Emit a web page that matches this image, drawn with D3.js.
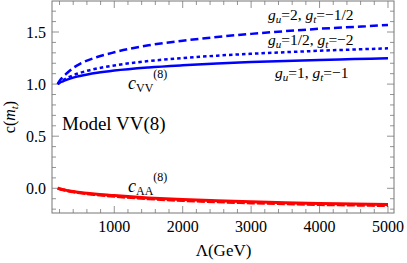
<!DOCTYPE html>
<html>
<head>
<meta charset="utf-8">
<script src="https://cdn.jsdelivr.net/npm/d3@7"></script>
<style>
  html, body { margin: 0; padding: 0; background: #fff; }
  svg text { font-family: "Liberation Serif", "Times New Roman", Times, serif; }
</style>
</head>
<body>
<div id="chart"></div>
<script>
// Lambda grid (GeV)
const lambda = [173, 200, 250, 300, 400, 500, 750, 1000, 1500, 2000, 2500, 3000, 3500, 4000, 4500, 5000];

// c_VV^(8) for the three coupling choices
const cVV_1_1 = [1.0, 1.012, 1.027, 1.041, 1.062, 1.078, 1.108, 1.13, 1.16, 1.181, 1.198, 1.211, 1.222, 1.232, 1.240, 1.248];
const cVV_half_2 = [1.0, 1.015, 1.038, 1.056, 1.085, 1.108, 1.15, 1.179, 1.221, 1.25, 1.273, 1.291, 1.306, 1.32, 1.332, 1.343];
const cVV_2_half = [1.0, 1.03, 1.07, 1.10, 1.155, 1.195, 1.26, 1.305, 1.372, 1.416, 1.452, 1.482, 1.508, 1.531, 1.549, 1.567];

// c_AA^(8)
const cAA_solid = [0, -0.005, -0.013, -0.02, -0.031, -0.04, -0.057, -0.07, -0.092, -0.108, -0.12, -0.13, -0.138, -0.145, -0.15, -0.155];
const cAA_dashed = [0, -0.005, -0.014, -0.022, -0.034, -0.044, -0.062, -0.077, -0.1, -0.117, -0.13, -0.14, -0.149, -0.156, -0.161, -0.166];

const xTicks = [1000, 2000, 3000, 4000, 5000];
const yTicks = [0, 0.5, 1.0, 1.5];
const yTickLabels = ["0.0", "0.5", "1.0", "1.5"];

const width = 407, height = 263;
const frame = { left: 52, right: 394, top: 1, bottom: 213 };
const frameColor = "#777";

const x = d3.scaleLinear().domain([90, 5088]).range([frame.left, frame.right]);
const y = d3.scaleLinear().domain([-0.237, 1.7975]).range([frame.bottom, frame.top]);

const svg = d3.select("#chart").append("svg")
  .attr("width", width)
  .attr("height", height);

// ticks (inward, on all four sides)
const xMinor = d3.range(200, 5001, 200);
const yMinor = d3.range(-0.2, 1.75, 0.1).map(v => Math.round(v * 10) / 10);

const tickG = svg.append("g").attr("stroke", frameColor).attr("stroke-width", 0.8);

xMinor.forEach(v => {
  const len = v % 1000 === 0 ? 7 : 4;
  const px = x(v);
  tickG.append("line").attr("x1", px).attr("x2", px).attr("y1", frame.bottom).attr("y2", frame.bottom - len);
  tickG.append("line").attr("x1", px).attr("x2", px).attr("y1", frame.top).attr("y2", frame.top + len);
});

yMinor.forEach(v => {
  const major = Math.abs(v * 2 - Math.round(v * 2)) < 1e-6;
  const len = major ? 7 : 4;
  const py = y(v);
  tickG.append("line").attr("x1", frame.left).attr("x2", frame.left + len).attr("y1", py).attr("y2", py);
  tickG.append("line").attr("x1", frame.right).attr("x2", frame.right - len).attr("y1", py).attr("y2", py);
});

// frame
svg.append("rect")
  .attr("x", frame.left).attr("y", frame.top)
  .attr("width", frame.right - frame.left).attr("height", frame.bottom - frame.top)
  .attr("fill", "none").attr("stroke", frameColor).attr("stroke-width", 1);

// tick labels
svg.selectAll("text.xt")
  .data(xTicks)
  .enter()
  .append("text")
  .attr("class", "xt")
  .attr("x", d => x(d))
  .attr("y", 232)
  .attr("text-anchor", "middle")
  .style("font-size", "16px")
  .text(d => d);

svg.selectAll("text.yt")
  .data(yTicks)
  .enter()
  .append("text")
  .attr("class", "yt")
  .attr("x", 46)
  .attr("y", d => y(d) + 5.5)
  .attr("text-anchor", "end")
  .style("font-size", "16px")
  .text((d, i) => yTickLabels[i]);

// curves
const line = (vals) => d3.line()
  .x((d, i) => x(lambda[i]))
  .y(d => y(d))
  .curve(d3.curveMonotoneX)(vals);

const curves = svg.append("g").attr("fill", "none").attr("stroke-linecap", "butt");

curves.append("path").attr("d", line(cAA_dashed))
  .attr("stroke", "#ff0000").attr("stroke-width", 3).attr("stroke-dasharray", "8,2");
curves.append("path").attr("d", line(cAA_solid))
  .attr("stroke", "#ff0000").attr("stroke-width", 3);

curves.append("path").attr("d", line(cVV_2_half))
  .attr("stroke", "#0000ff").attr("stroke-width", 2.5).attr("stroke-dasharray", "8,4");
curves.append("path").attr("d", line(cVV_half_2))
  .attr("stroke", "#0000ff").attr("stroke-width", 2.5).attr("stroke-dasharray", "3.5,3");
curves.append("path").attr("d", line(cVV_1_1))
  .attr("stroke", "#0000ff").attr("stroke-width", 2.5);

// rich text helper
function rich(xp, yp, parts, size) {
  const t = svg.append("text").attr("x", xp).attr("y", yp).style("font-size", size + "px");
  parts.forEach(p => {
    const s = t.append("tspan").text(p.t);
    if (p.i) s.style("font-style", "italic");
    if (p.s) s.style("font-size", p.s + "px");
    if (p.dy) s.attr("dy", p.dy);
  });
  return t;
}

// coupling labels
rich(268, 20, [
  { t: "g", i: 1 }, { t: "u", i: 1, s: 11, dy: 3 }, { t: "=2, ", dy: -3 },
  { t: "g", i: 1 }, { t: "t", i: 1, s: 11, dy: 3 }, { t: "=\u22121/2", dy: -3 }
], 15.5);
rich(268, 45, [
  { t: "g", i: 1 }, { t: "u", i: 1, s: 11, dy: 3 }, { t: "=1/2, ", dy: -3 },
  { t: "g", i: 1 }, { t: "t", i: 1, s: 11, dy: 3 }, { t: "=\u22122", dy: -3 }
], 15.5);
rich(275, 78, [
  { t: "g", i: 1 }, { t: "u", i: 1, s: 11, dy: 3 }, { t: "=1, ", dy: -3 },
  { t: "g", i: 1 }, { t: "t", i: 1, s: 11, dy: 3 }, { t: "=\u22121", dy: -3 }
], 15.5);

// curve names
rich(128, 89, [
  { t: "c", i: 1 }, { t: "VV", s: 12, dy: 3 }, { t: "(8)", s: 12, dy: -14 }
], 18);
rich(128, 192, [
  { t: "c", i: 1 }, { t: "AA", s: 12, dy: 3 }, { t: "(8)", s: 12, dy: -14 }
], 18);

svg.append("text")
  .attr("x", 62).attr("y", 130)
  .style("font-size", "19px")
  .text("Model VV(8)");

// axis labels
svg.append("text")
  .attr("x", 223.5).attr("y", 256)
  .attr("text-anchor", "middle")
  .style("font-size", "17px")
  .text("\u039B(GeV)");

const yl = svg.append("text")
  .attr("transform", "translate(15,117) rotate(-90)")
  .attr("text-anchor", "middle")
  .style("font-size", "16px");
yl.append("tspan").text("c(");
yl.append("tspan").text("m").style("font-style", "italic");
yl.append("tspan").text("t").style("font-style", "italic").style("font-size", "11px").attr("dy", 3);
yl.append("tspan").text(")").attr("dy", -3);
</script>
</body>
</html>
